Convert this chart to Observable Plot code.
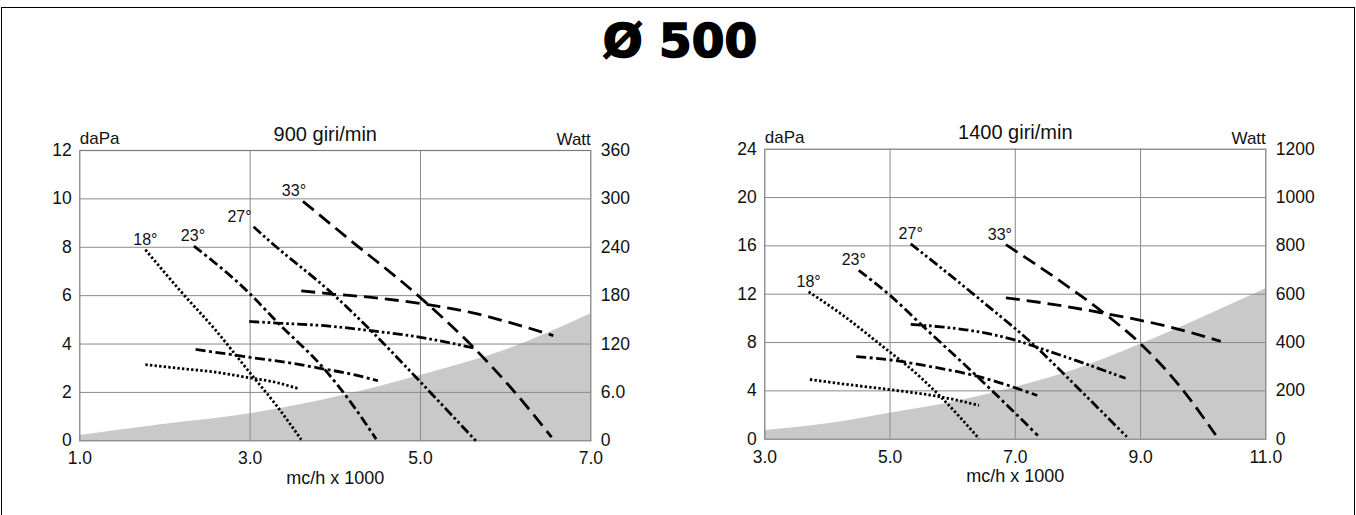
<!DOCTYPE html>
<html><head><meta charset="utf-8">
<script src="https://cdn.jsdelivr.net/npm/d3@7"></script>
<script src="https://cdn.jsdelivr.net/npm/@observablehq/plot@0.6"></script>
<style>
body{margin:0;background:#fff;font-family:"Liberation Sans",Arial,sans-serif;}
#page{position:relative;width:1356px;height:515px;overflow:hidden;background:#fff}
#frame{position:absolute;left:1px;top:7px;width:1354px;height:520px;border:1.5px solid #000;border-bottom:none;box-sizing:border-box}
#title{position:absolute;left:2px;width:1356px;top:14px;text-align:center;font-family:"DejaVu Sans";font-weight:bold;font-size:47px;line-height:54px;-webkit-text-stroke:1.6px #000;color:#000}
.chart{position:absolute;top:100px}
</style></head><body>
<div id="page">
<div id="frame"></div>
<div id="title">Ø 500</div>
<div id="c1" class="chart" style="left:0"></div>
<div id="c2" class="chart" style="left:680px"></div>
</div>
<script>
// ---- shared ----
const angles = ["18°", "23°", "27°", "33°"];

// ---- 900 giri/min ----
const xTicks900 = [1, 3, 5, 7];
const xLabels900 = ["1.0", "3.0", "5.0", "7.0"];
const yTicks900 = [0, 2, 4, 6, 8, 10, 12];
const yLabels900 = ["0", "2", "4", "6", "8", "10", "12"];
const wattLabels900 = ["0", "6.0", "120", "180", "240", "300", "360"];
const wattTop900 = 360;
// pressure daPa vs mc/h x 1000
const p900_18 = [[1.77, 7.9], [2.18, 6.2], [2.6, 4.55], [3.0, 2.8], [3.3, 1.5], [3.6, 0.05]];
const p900_23 = [[2.34, 8.05], [3.0, 6.07], [3.32, 4.9], [3.87, 2.97], [4.18, 1.6], [4.48, 0.07]];
const p900_27 = [[3.04, 8.85], [3.22, 8.28], [3.97, 6.07], [4.42, 4.55], [4.93, 2.69], [5.65, 0.0]];
const p900_33 = [[3.62, 9.9], [4.18, 8.28], [4.95, 6.07], [5.62, 3.87], [6.09, 2.08], [6.54, 0.15]];
// power Watt vs mc/h x 1000
const w900_18 = [[1.77, 94.5], [2.18, 89.7], [2.6, 85], [3.0, 78], [3.3, 72.5], [3.58, 64.2]];
const w900_23 = [[2.36, 113.4], [3.0, 103.5], [3.5, 96], [3.87, 89], [4.2, 82.5], [4.5, 74.4]];
const w900_27 = [[2.99, 148], [3.32, 146], [3.9, 142.5], [4.42, 136.5], [5.0, 128.4], [5.63, 115]];
const w900_33 = [[3.6, 186], [3.97, 182], [4.5, 177], [5.05, 169.5], [5.6, 159], [5.9, 151], [6.56, 130.5]];
// shaded zone (daPa)
const zone900 = [[1, 0.22], [2, 0.68], [3, 1.12], [4, 1.8], [5, 2.7], [6, 3.75], [7, 5.25]];

// ---- 1400 giri/min ----
const xTicks1400 = [3, 5, 7, 9, 11];
const xLabels1400 = ["3.0", "5.0", "7.0", "9.0", "11.0"];
const yTicks1400 = [0, 4, 8, 12, 16, 20, 24];
const yLabels1400 = ["0", "4", "8", "12", "16", "20", "24"];
const wattLabels1400 = ["0", "200", "400", "600", "800", "1000", "1200"];
const wattTop1400 = 1200;
const p1400_18 = [[3.7, 12.2], [4.21, 10.4], [5.0, 7.2], [5.2, 6.4], [5.81, 3.5], [6.42, 0.05]];
const p1400_23 = [[4.5, 13.97], [5.0, 11.9], [5.54, 9.28], [6.4, 5.15], [6.9, 2.65], [7.36, 0.3]];
const p1400_27 = [[5.33, 16.17], [6.45, 11.5], [7.36, 7.5], [7.94, 4.55], [8.78, 0.2]];
const p1400_33 = [[6.85, 16.1], [7.89, 12.45], [8.4, 10.5], [9.0, 7.9], [9.64, 4.3], [10.2, 0.35]];
const w1400_18 = [[3.72, 247], [4.21, 230], [5.0, 205], [5.81, 175], [6.42, 140]];
const w1400_23 = [[4.46, 342], [5.0, 328], [5.7, 298], [6.4, 260], [7.35, 181]];
const w1400_27 = [[5.33, 475], [5.81, 465], [6.4, 445], [7.0, 410], [7.41, 375], [8.0, 323], [8.76, 252]];
const w1400_33 = [[6.85, 585], [7.5, 562], [8.4, 522], [9.0, 492], [9.46, 465], [10.28, 405]];
const zone1400 = [[3, 0.72], [4, 1.27], [5, 2.15], [6, 3.06], [7, 4.3], [8, 5.83], [9, 7.85], [10, 10.1], [11, 12.45]];

// ---- styles ----
const dashes = ["2.4,2.2", "10,3.5,3,3.5", "10,3,2.6,2.8,2.6,3", "14,7"];
const FONT = "'Liberation Sans', Arial, sans-serif";

function chart(o) {
  const yMax = o.yTicks[o.yTicks.length - 1];
  const k = o.wattTop / yMax;
  const lineStyle = (i) => ({stroke: "#000", strokeWidth: 2.8, strokeDasharray: dashes[i], strokeLinecap: "butt", strokeLinejoin: "miter", curve: "monotone-x"});
  const marks = [
    Plot.areaY(o.zone, {x: d => d[0], y: d => d[1], fill: "#c9c9c9", curve: "monotone-x"}),
    Plot.gridX(o.xTicks.slice(1, -1), {stroke: "#8a8a8a", strokeOpacity: 1, strokeWidth: 1}),
    Plot.gridY(o.yTicks.slice(1, -1), {stroke: "#8a8a8a", strokeOpacity: 1, strokeWidth: 1}),
    Plot.frame({stroke: "#7a7a7a", strokeWidth: 1.2}),
    Plot.axisY(o.yTicks, {anchor: "left", tickSize: 0, tickPadding: 8, fontSize: 17.5, tickFormat: (d, i) => o.yLabels[i], label: null}),
    Plot.axisY(o.yTicks, {anchor: "right", tickSize: 0, tickPadding: 10, fontSize: 17.5, tickFormat: (d, i) => o.wattLabels[i], label: null}),
    Plot.axisX(o.xTicks, {anchor: "bottom", tickSize: 0, tickPadding: 11, fontSize: 17.5, tickFormat: (d, i) => o.xLabels[i], label: null}),
    Plot.text(["daPa"], {frameAnchor: "top-left", textAnchor: "start", lineAnchor: "bottom", dy: -6.5, fontSize: 17}),
    Plot.text(["Watt"], {frameAnchor: "top-right", textAnchor: "end", lineAnchor: "bottom", dy: -5.7, fontSize: 17}),
    Plot.text([o.title], {frameAnchor: "top", textAnchor: "middle", lineAnchor: "bottom", dy: -10, dx: o.titleDx, fontSize: 20}),
    Plot.text(["mc/h x 1000"], {frameAnchor: "bottom", textAnchor: "middle", lineAnchor: "bottom", dy: 43, fontSize: 18})
  ];
  o.pressure.forEach((s, i) => {
    marks.push(Plot.line(s, {x: d => d[0], y: d => d[1], ...lineStyle(i)}));
    marks.push(Plot.text([s[0]], {x: d => d[0], y: d => d[1], text: () => angles[i], lineAnchor: "bottom", textAnchor: "middle", dy: -5, dx: o.labelDx[i], fontSize: 16}));
  });
  o.power.forEach((s, i) => {
    marks.push(Plot.line(s, {x: d => d[0], y: d => d[1] / k, ...lineStyle(i)}));
  });
  return Plot.plot({
    width: o.width, height: 400,
    marginLeft: o.mL, marginRight: o.mR, marginTop: o.mT, marginBottom: o.mB,
    x: {domain: [o.xTicks[0], o.xTicks[o.xTicks.length - 1]]},
    y: {domain: [0, yMax]},
    style: {fontFamily: FONT, fontSize: "17px", color: "#111", background: "transparent", overflow: "visible"},
    marks
  });
}

document.getElementById("c1").append(chart({
  width: 680, mL: 79.3, mR: 89.7, mT: 50, mB: 59.7,
  xTicks: xTicks900, xLabels: xLabels900, yTicks: yTicks900, yLabels: yLabels900,
  wattLabels: wattLabels900, wattTop: wattTop900, title: "900 giri/min", titleDx: -10,
  pressure: [p900_18, p900_23, p900_27, p900_33],
  power: [w900_18, w900_23, w900_27, w900_33],
  zone: zone900, labelDx: [0, -1, -14, -9]
}));
document.getElementById("c2").append(chart({
  width: 676, mL: 84.3, mR: 90.7, mT: 48.7, mB: 61.3,
  xTicks: xTicks1400, xLabels: xLabels1400, yTicks: yTicks1400, yLabels: yLabels1400,
  wattLabels: wattLabels1400, wattTop: wattTop1400, title: "1400 giri/min", titleDx: 0,
  pressure: [p1400_18, p1400_23, p1400_27, p1400_33],
  power: [w1400_18, w1400_23, w1400_27, w1400_33],
  zone: zone1400, labelDx: [0, -5, 0, -6]
}));
</script>
</body></html>
